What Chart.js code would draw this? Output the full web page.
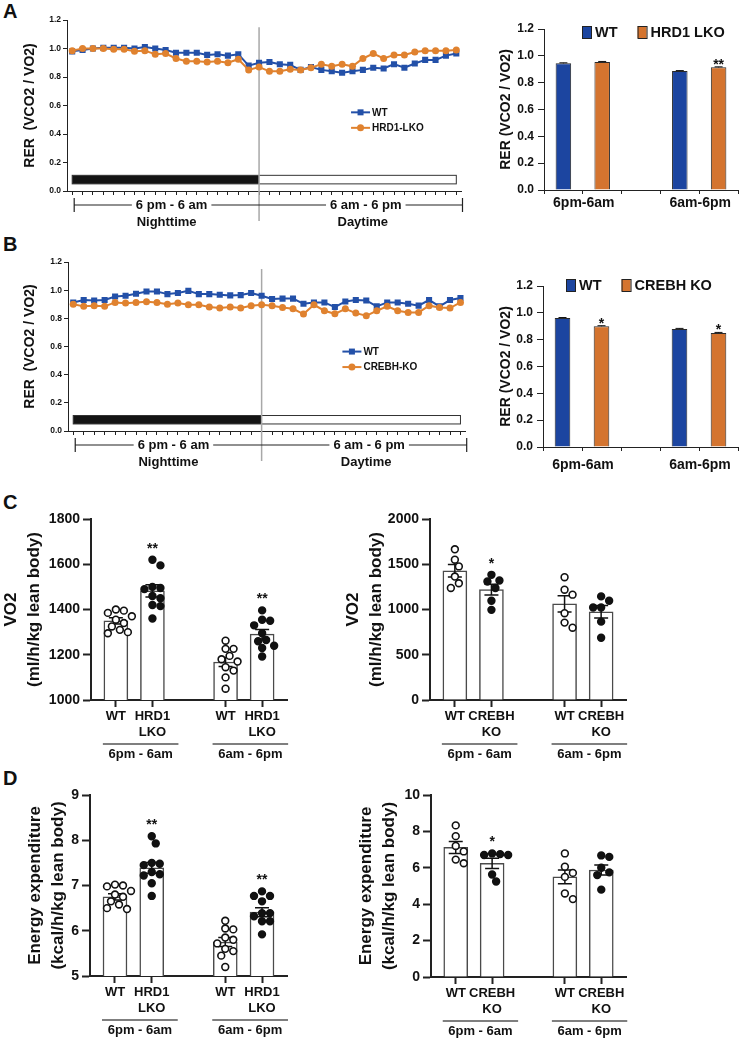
<!DOCTYPE html>
<html>
<head>
<meta charset="utf-8">
<script src="https://cdn.jsdelivr.net/npm/chart.js@4.4.1/dist/chart.umd.min.js"></script>
<style>
  body { margin: 0; background: #fff; width: 740px; height: 1038px; position: relative; overflow: hidden; }
  .box { position: absolute; }
  .lbl { position: absolute; font: bold 20px "Liberation Sans", Arial, sans-serif; color: #111; }
</style>
</head>
<body>
<div class="lbl" style="left:3px;top:0px">A</div>
<div class="lbl" style="left:3px;top:233px">B</div>
<div class="lbl" style="left:3px;top:491px">C</div>
<div class="lbl" style="left:3px;top:767px">D</div>

<div class="box" style="left:0px;top:10px;width:470px;height:232px"><canvas id="aLine"></canvas></div>
<div class="box" style="left:480px;top:10px;width:260px;height:210px"><canvas id="aBar"></canvas></div>
<div class="box" style="left:0px;top:250px;width:470px;height:232px"><canvas id="bLine"></canvas></div>
<div class="box" style="left:480px;top:250px;width:260px;height:230px"><canvas id="bBar"></canvas></div>
<div class="box" style="left:0px;top:505px;width:300px;height:260px"><canvas id="cLeft"></canvas></div>
<div class="box" style="left:342px;top:505px;width:298px;height:260px"><canvas id="cRight"></canvas></div>
<div class="box" style="left:24px;top:780px;width:276px;height:258px"><canvas id="dLeft"></canvas></div>
<div class="box" style="left:355px;top:780px;width:285px;height:258px"><canvas id="dRight"></canvas></div>

<script>
// ---- data ----
var rerWtA = [0.98, 0.99, 1.00, 1.005, 1.005, 1.005, 1.00, 1.01, 1.00, 0.99, 0.97, 0.97, 0.97, 0.955, 0.96, 0.95, 0.96, 0.88, 0.90,
              0.905, 0.89, 0.885, 0.85, 0.87, 0.85, 0.84, 0.83, 0.84, 0.85, 0.865, 0.86, 0.89, 0.865, 0.895, 0.92, 0.92, 0.95, 0.965];
var rerKoA = [0.985, 1.00, 1.00, 1.00, 0.995, 0.995, 0.98, 0.985, 0.96, 0.965, 0.93, 0.91, 0.91, 0.905, 0.91, 0.90, 0.925, 0.85, 0.87,
              0.84, 0.84, 0.855, 0.85, 0.865, 0.89, 0.875, 0.89, 0.875, 0.93, 0.965, 0.93, 0.955, 0.955, 0.975, 0.985, 0.985, 0.985, 0.99];
var rerWtB = [0.913, 0.93, 0.927, 0.93, 0.955, 0.96, 0.975, 0.99, 0.99, 0.972, 0.98, 0.995, 0.972, 0.972, 0.968, 0.963, 0.965, 0.98, 0.96,
              0.937, 0.94, 0.94, 0.903, 0.913, 0.913, 0.88, 0.92, 0.93, 0.927, 0.885, 0.913, 0.913, 0.903, 0.89, 0.93, 0.885, 0.93, 0.944];
var rerKoB = [0.90, 0.885, 0.89, 0.885, 0.913, 0.908, 0.913, 0.918, 0.913, 0.90, 0.908, 0.896, 0.896, 0.88, 0.873, 0.88, 0.873, 0.89, 0.896,
              0.89, 0.877, 0.868, 0.83, 0.896, 0.854, 0.832, 0.868, 0.837, 0.818, 0.854, 0.885, 0.854, 0.842, 0.842, 0.89, 0.877, 0.873, 0.913];
var lightsOnIndex = 18;

var periods = ['6pm-6am', '6am-6pm'];
var periodsSpaced = ['6pm - 6am', '6am - 6pm'];

var rerBarWtA = [0.944, 0.887], rerBarKoA = [0.954, 0.914];
var rerSemWtA = [0.004, 0.003], rerSemKoA = [0.004, 0.004];
var starsA = ['', '**'];
var rerBarWtB = [0.962, 0.880], rerBarKoB = [0.900, 0.850];
var rerSemWtB = [0.003, 0.004], rerSemKoB = [0.004, 0.004];
var starsB = ['*', '*'];

var genoHrd = ['WT', ['HRD1', 'LKO']];
var genoCreb = ['WT', ['CREBH', 'KO']];

// groups: WT night, KO night, WT day, KO day
var vo2HrdDots = [
  [1400, 1395, 1385, 1370, 1355, 1340, 1325, 1310, 1300, 1295],
  [1620, 1595, 1500, 1495, 1490, 1460, 1450, 1420, 1415, 1360],
  [1262, 1226, 1226, 1195, 1180, 1170, 1145, 1130, 1100, 1050],
  [1396, 1355, 1350, 1330, 1295, 1265, 1260, 1240, 1230, 1192]
];
var vo2HrdMean = [1350, 1482, 1168, 1291];
var vo2HrdSem = [14, 27, 20, 21];
var vo2HrdStars = ['', '**', '', '**'];

var vo2CrebDots = [
  [1665, 1550, 1476, 1364, 1290, 1238],
  [1383, 1320, 1309, 1238, 1097, 996],
  [1357, 1219, 1164, 959, 855, 799],
  [1145, 1097, 1022, 1022, 866, 688]
];
var vo2CrebMean = [1428, 1220, 1062, 975];
var vo2CrebSem = [68, 60, 90, 70];
var vo2CrebStars = ['', '*', '', ''];

var eeHrdDots = [
  [7.02, 7.0, 6.98, 6.88, 6.8, 6.75, 6.65, 6.58, 6.5, 6.48],
  [8.09, 7.93, 7.5, 7.48, 7.45, 7.3, 7.25, 7.22, 7.05, 6.77],
  [6.22, 6.05, 6.03, 5.85, 5.8, 5.72, 5.6, 5.55, 5.45, 5.2],
  [6.87, 6.77, 6.77, 6.65, 6.39, 6.39, 6.32, 6.21, 6.21, 5.92]
];
var eeHrdMean = [6.75, 7.39, 5.75, 6.41];
var eeHrdSem = [0.07, 0.12, 0.10, 0.10];
var eeHrdStars = ['', '**', '', '**'];

var eeCrebDots = [
  [8.33, 7.74, 7.2, 6.9, 6.45, 6.25],
  [6.79, 6.75, 6.7, 6.7, 5.63, 5.25],
  [6.79, 6.06, 5.72, 5.5, 4.59, 4.28],
  [6.6, 6.68, 6.0, 5.75, 5.6, 4.8]
];
var eeCrebMean = [7.12, 6.24, 5.50, 5.88];
var eeCrebSem = [0.33, 0.28, 0.38, 0.28];
var eeCrebStars = ['', '*', '', ''];

// ---- styling ----
var FAM = '"Liberation Sans", Arial, Helvetica, sans-serif';
Chart.defaults.font.family = FAM;
Chart.defaults.color = '#111';
Chart.defaults.animation = false;
Chart.defaults.responsive = true;
Chart.defaults.maintainAspectRatio = false;
Chart.defaults.plugins.legend.display = false;
Chart.defaults.plugins.tooltip.enabled = false;

var BLUE_LINE = '#2350a8', ORANGE_LINE = '#e0822f';
var BLUE_BAR = '#1c45a0', ORANGE_BAR = '#d4742f';

function fixW(w) { return function (s) { s.width = w; }; }
function fixH(h) { return function (s) { s.height = h; }; }

function textWithGap(ctx, txt, x, y) {
  var w = ctx.measureText(txt).width;
  ctx.fillStyle = '#fff';
  ctx.fillRect(x - w / 2 - 4, y - 8, w + 8, 16);
  ctx.fillStyle = '#111';
  ctx.fillText(txt, x, y);
}

// ---- RER time course ----
function lineChart(id, wt, ko, koName, opt) {
  var n = wt.length;
  var labels = wt.map(function (v, i) { return String(i + 1); });
  var dayNight = {
    id: 'dayNight',
    beforeDatasetsDraw: function (c) {
      var x = c.scales.x, y = c.scales.y, ctx = c.ctx, a = c.chartArea;
      var x0 = x.getPixelForValue(0), xm = x.getPixelForValue(lightsOnIndex), x1 = x.getPixelForValue(n - 1);
      var yt = y.getPixelForValue(0.11), yb = y.getPixelForValue(0.05);
      ctx.save();
      ctx.fillStyle = '#141414';
      ctx.fillRect(x0, yt, xm - x0, yb - yt);
      ctx.strokeStyle = '#333';
      ctx.lineWidth = 1;
      ctx.strokeRect(x0, yt, x1 - x0, yb - yt);
      ctx.strokeStyle = '#a8a8a8';
      ctx.lineWidth = 1.5;
      ctx.beginPath();
      ctx.moveTo(xm, y.getPixelForValue(1.15));
      ctx.lineTo(xm, a.bottom + 30);
      ctx.stroke();
      ctx.restore();
    },
    afterDraw: function (c) {
      var x = c.scales.x, ctx = c.ctx, a = c.chartArea;
      var xm = x.getPixelForValue(lightsOnIndex);
      var capL = x.getPixelForValue(0) + 2, capR = a.right + 1;
      var by = a.bottom + 14;
      ctx.save();
      ctx.strokeStyle = '#222';
      ctx.lineWidth = 1.2;
      ctx.beginPath();
      ctx.moveTo(capL, by); ctx.lineTo(capR, by);
      ctx.moveTo(capL, by - 7); ctx.lineTo(capL, by + 7);
      ctx.moveTo(capR, by - 7); ctx.lineTo(capR, by + 7);
      ctx.stroke();
      ctx.font = 'bold 13px ' + FAM;
      ctx.textAlign = 'center';
      ctx.textBaseline = 'middle';
      textWithGap(ctx, '6 pm - 6 am', (capL + xm) / 2 + 5, by);
      textWithGap(ctx, '6 am - 6 pm', (xm + capR) / 2 + 5, by);
      ctx.fillText('Nighttime', (capL + xm) / 2, by + 17);
      ctx.fillText('Daytime', (xm + capR) / 2 + 2, by + 17);

      // legend inside the plot
      var lx = a.left + a.width * opt.legX, ly = a.top + a.height * opt.legY;
      ctx.font = 'bold 10px ' + FAM;
      ctx.textAlign = 'left';
      c.data.datasets.forEach(function (ds, i) {
        var yy = ly + i * 15.5;
        ctx.strokeStyle = ds.borderColor;
        ctx.lineWidth = 2;
        ctx.beginPath(); ctx.moveTo(lx, yy); ctx.lineTo(lx + 19, yy); ctx.stroke();
        ctx.fillStyle = ds.borderColor;
        if (ds.pointStyle === 'rect') ctx.fillRect(lx + 6.5, yy - 3, 6, 6);
        else { ctx.beginPath(); ctx.arc(lx + 9.5, yy, 3.5, 0, Math.PI * 2); ctx.fill(); }
        ctx.fillStyle = '#111';
        ctx.fillText(ds.label, lx + 21, yy + 0.5);
      });
      ctx.restore();
    }
  };
  return new Chart(document.getElementById(id), {
    type: 'line',
    data: {
      labels: labels,
      datasets: [
        { label: 'WT', data: wt, borderColor: BLUE_LINE, backgroundColor: BLUE_LINE, borderWidth: 2,
          pointStyle: 'rect', pointRadius: 4.3, pointBorderWidth: 0, tension: 0, order: 2 },
        { label: koName, data: ko, borderColor: ORANGE_LINE, backgroundColor: ORANGE_LINE, borderWidth: 2,
          pointStyle: 'circle', pointRadius: 3.5, pointBorderWidth: 0, tension: 0, order: 1 }
      ]
    },
    options: {
      layout: { padding: opt.pad },
      scales: {
        x: {
          offset: true,
          ticks: { display: false },
          grid: { drawOnChartArea: false, tickLength: 4, color: '#222', offset: false },
          border: { color: '#222', width: 1 },
          afterFit: fixH(4)
        },
        y: {
          min: 0, max: 1.2,
          ticks: { stepSize: 0.2, padding: 2, font: { size: 8.5, weight: 'bold' },
                   callback: function (v) { return v.toFixed(1); } },
          grid: { drawOnChartArea: false, tickLength: 4, color: '#222' },
          border: { color: '#222', width: 1 },
          title: { display: true, text: 'RER  (VCO2 / VO2)', font: { size: 14, weight: 'bold' }, padding: { top: 22, bottom: 0 } },
          afterFit: fixW(opt.yW)
        }
      }
    },
    plugins: [dayNight]
  });
}

// ---- RER period means ----
function rerBarChart(id, wt, ko, wtSem, koSem, stars, koName, opt) {
  var slotLabels = [periods[0] + ' WT', periods[0] + ' KO', '', periods[1] + ' WT', periods[1] + ' KO'];
  var wtData = [wt[0], null, null, wt[1], null];
  var koData = [null, ko[0], null, null, ko[1]];
  var wtErr = [wtSem[0], null, null, wtSem[1], null];
  var koErr = [null, koSem[0], null, null, koSem[1]];
  var koStars = [null, stars[0], null, null, stars[1]];
  var extras = {
    id: 'rerBarExtras',
    afterDatasetsDraw: function (c) {
      var ctx = c.ctx, y = c.scales.y, x = c.scales.x, a = c.chartArea;
      ctx.save();
      [wtErr, koErr].forEach(function (errs, d) {
        var meta = c.getDatasetMeta(d);
        var vals = c.data.datasets[d].data;
        errs.forEach(function (e, i) {
          if (e === null) return;
          var bx = meta.data[i].x, yv = y.getPixelForValue(vals[i]), ye = y.getPixelForValue(vals[i] + e);
          ctx.strokeStyle = '#111'; ctx.lineWidth = 1;
          ctx.beginPath(); ctx.moveTo(bx, yv); ctx.lineTo(bx, ye);
          ctx.moveTo(bx - 4, ye); ctx.lineTo(bx + 4, ye); ctx.stroke();
        });
      });
      ctx.fillStyle = '#111';
      ctx.font = 'bold 14px ' + FAM;
      ctx.textAlign = 'center';
      ctx.textBaseline = 'alphabetic';
      var kmeta = c.getDatasetMeta(1);
      koStars.forEach(function (s, i) {
        if (!s) return;
        ctx.fillText(s, kmeta.data[i].x, y.getPixelForValue(koData[i] + koErr[i]) + 2);
      });
      // period labels under the axis, centred on the boundary between the two bars
      ctx.font = 'bold 14px ' + FAM;
      ctx.textBaseline = 'middle';
      [[0, 1], [3, 4]].forEach(function (p, k) {
        var cx = (x.getPixelForValue(p[0]) + x.getPixelForValue(p[1])) / 2;
        ctx.fillText(periods[k], cx + 1, a.bottom + opt.labDy);
      });
      // legend
      var lx = a.left + opt.legDx, ly = a.top + opt.legDy;
      ctx.font = 'bold 14.5px ' + FAM;
      ctx.textAlign = 'left';
      c.data.datasets.forEach(function (ds) {
        ctx.fillStyle = ds.backgroundColor;
        ctx.fillRect(lx, ly - 6, 9, 12);
        ctx.strokeStyle = '#222'; ctx.lineWidth = 1;
        ctx.strokeRect(lx + 0.5, ly - 5.5, 9, 12);
        ctx.fillStyle = '#111';
        ctx.fillText(ds.label, lx + 13, ly + 1);
        lx += 13 + ctx.measureText(ds.label).width + 20;
      });
      ctx.restore();
    }
  };
  return new Chart(document.getElementById(id), {
    type: 'bar',
    data: {
      labels: slotLabels,
      datasets: [
        { label: 'WT', data: wtData, backgroundColor: BLUE_BAR, borderColor: '#2a2a2a', borderWidth: 1, skipNull: true },
        { label: koName, data: koData, backgroundColor: ORANGE_BAR, borderColor: '#2a2a2a', borderWidth: 1, skipNull: true }
      ]
    },
    options: {
      layout: { padding: opt.pad },
      datasets: { bar: { barPercentage: 0.4, categoryPercentage: 1 } },
      scales: {
        x: {
          ticks: { display: false },
          grid: { drawOnChartArea: false, tickLength: 4, color: '#222' },
          border: { color: '#222', width: 1 },
          afterFit: fixH(5)
        },
        y: {
          min: 0, max: 1.2,
          ticks: { stepSize: 0.2, padding: 4, font: { size: 12, weight: 'bold' },
                   callback: function (v) { return v.toFixed(1); } },
          grid: { drawOnChartArea: false, tickLength: 6, color: '#222' },
          border: { color: '#222', width: 1 },
          title: { display: true, text: 'RER (VCO2 / VO2)', font: { size: 14, weight: 'bold' }, padding: { top: 18, bottom: 0 } },
          afterFit: fixW(opt.yW)
        }
      }
    },
    plugins: [extras]
  });
}

// ---- scatter-on-bar panels ----
var GROUP_X = [1, 2, 4, 5];

function swarm(chart, r) {
  var xS = chart.scales.x, yS = chart.scales.y;
  chart.data.datasets.forEach(function (ds) {
    if (ds.type !== 'scatter') return;
    var cx = xS.getPixelForValue(ds.center);
    var placed = [];
    var pts = ds.data.slice().sort(function (a, b) { return b.y - a.y; });
    var steps = [0, 1, -1, 2, -2, 3, -3, 4, -4, 5, -5];
    pts.forEach(function (p) {
      var py = yS.getPixelForValue(p.y), px = cx;
      for (var j = 0; j < steps.length; j++) {
        var cand = cx + steps[j] * (r + 0.6);
        var ok = placed.every(function (q) {
          var dx = q[0] - cand, dy = q[1] - py;
          return dx * dx + dy * dy >= (2 * r + 0.8) * (2 * r + 0.8);
        });
        if (ok) { px = cand; break; }
      }
      placed.push([px, py]);
      p.x = xS.getValueForPixel(px);
    });
  });
  chart.update('none');
}

function dotChart(id, cfg) {
  var datasets = [{
    type: 'bar',
    data: GROUP_X.map(function (x, i) { return { x: x, y: cfg.mean[i] }; }),
    backgroundColor: '#fff', borderColor: '#4a4a4a', borderWidth: 1.5, barThickness: 24, order: 2
  }];
  cfg.dots.forEach(function (vals, i) {
    datasets.push({
      type: 'scatter', center: GROUP_X[i], order: 1,
      data: vals.map(function (v) { return { x: GROUP_X[i], y: v }; }),
      pointRadius: cfg.r, pointBorderWidth: 1.6, pointBorderColor: '#111',
      pointBackgroundColor: i % 2 ? '#111' : '#fff'
    });
  });
  var extras = {
    id: 'dotExtras',
    afterDatasetDraw: function (c, args) {
      if (args.index !== 0) return;
      var ctx = c.ctx, x = c.scales.x, y = c.scales.y;
      ctx.save();
      ctx.strokeStyle = '#111'; ctx.lineWidth = 1.5;
      GROUP_X.forEach(function (gx, i) {
        var px = x.getPixelForValue(gx);
        var lo = y.getPixelForValue(cfg.mean[i] - cfg.sem[i]), hi = y.getPixelForValue(cfg.mean[i] + cfg.sem[i]);
        ctx.beginPath();
        ctx.moveTo(px, lo); ctx.lineTo(px, hi);
        ctx.moveTo(px - 7, lo); ctx.lineTo(px + 7, lo);
        ctx.moveTo(px - 7, hi); ctx.lineTo(px + 7, hi);
        ctx.stroke();
      });
      ctx.restore();
    },
    afterDraw: function (c) {
      var ctx = c.ctx, x = c.scales.x, y = c.scales.y, a = c.chartArea;
      ctx.save();
      ctx.fillStyle = '#111';
      ctx.textAlign = 'center';
      ctx.font = 'bold 14px ' + FAM;
      ctx.textBaseline = 'alphabetic';
      cfg.stars.forEach(function (s, i) {
        if (!s) return;
        var top = y.getPixelForValue(Math.max.apply(null, cfg.dots[i]));
        ctx.fillText(s, x.getPixelForValue(GROUP_X[i]), top - 15 + 8);
      });
      // period brackets
      ctx.font = 'bold 13px ' + FAM;
      ctx.textBaseline = 'middle';
      ctx.strokeStyle = '#555'; ctx.lineWidth = 1.5;
      [[0, 1], [2, 3]].forEach(function (g, k) {
        var l = x.getPixelForValue(GROUP_X[g[0]]) - 13, r = x.getPixelForValue(GROUP_X[g[1]]) + 26;
        ctx.beginPath(); ctx.moveTo(l, a.bottom + 44); ctx.lineTo(r, a.bottom + 44); ctx.stroke();
        ctx.fillText(periodsSpaced[k], (l + r) / 2, a.bottom + 54);
      });
      ctx.restore();
    }
  };
  var chart = new Chart(document.getElementById(id), {
    type: 'bar',
    data: { datasets: datasets },
    options: {
      layout: { padding: cfg.pad },
      scales: {
        x: {
          type: 'linear', min: 0.32, max: 5.68, offset: false,
          afterBuildTicks: function (s) { s.ticks = GROUP_X.map(function (v) { return { value: v }; }); },
          ticks: { autoSkip: false, maxRotation: 0, padding: 2, font: { size: 13, weight: 'bold' },
                   callback: function (v, i) { return cfg.geno[i % 2]; } },
          grid: { drawOnChartArea: false, offset: false, tickLength: 7, tickWidth: 2, tickColor: '#222' },
          border: { color: '#222', width: 2 },
          afterFit: fixH(40)
        },
        y: {
          min: cfg.min, max: cfg.max,
          ticks: { stepSize: cfg.step, padding: 3, font: { size: 14, weight: 'bold' },
                   callback: function (v) { return String(v); } },
          grid: { drawOnChartArea: false, tickLength: 8, tickWidth: 2, tickColor: '#222' },
          border: { color: '#222', width: 2 },
          title: { display: true, text: cfg.title, font: { size: 17, weight: 'bold', lineHeight: 1.35 }, padding: { top: 0, bottom: 0 } },
          afterFit: fixW(cfg.yW)
        }
      }
    },
    plugins: [extras]
  });
  swarm(chart, cfg.r);
  return chart;
}

lineChart('aLine', rerWtA, rerKoA, 'HRD1-LKO', { yW: 67, pad: { top: 10, right: 8.5, bottom: 47, left: 0 }, legX: 0.72, legY: 0.54 });
lineChart('bLine', rerWtB, rerKoB, 'CREBH-KO', { yW: 68, pad: { top: 12, right: 4, bottom: 47, left: 0 }, legX: 0.69, legY: 0.53 });
rerBarChart('aBar', rerBarWtA, rerBarKoA, rerSemWtA, rerSemKoA, starsA, 'HRD1 LKO',
  { yW: 64, pad: { top: 19, right: 2, bottom: 25, left: 0 }, legDx: 38, legDy: 3, labDy: 13 });
rerBarChart('bBar', rerBarWtB, rerBarKoB, rerSemWtB, rerSemKoB, starsB, 'CREBH KO',
  { yW: 63, pad: { top: 36, right: 2, bottom: 28, left: 0 }, legDx: 23, legDy: -1, labDy: 18 });

var vo2Title = ['VO2', '(ml/h/kg lean body)'];
var eeTitle = ['Energy expenditure', '(kcal/h/kg lean body)'];
dotChart('cLeft', { dots: vo2HrdDots, mean: vo2HrdMean, sem: vo2HrdSem, stars: vo2HrdStars, geno: genoHrd,
  min: 1000, max: 1800, step: 200, title: vo2Title, yW: 91, r: 3.4, pad: { top: 14, right: 13, bottom: 25, left: 0 } });
dotChart('cRight', { dots: vo2CrebDots, mean: vo2CrebMean, sem: vo2CrebSem, stars: vo2CrebStars, geno: genoCreb,
  min: 0, max: 2000, step: 500, title: vo2Title, yW: 88, r: 3.4, pad: { top: 14, right: 14, bottom: 25, left: 0 } });
dotChart('dLeft', { dots: eeHrdDots, mean: eeHrdMean, sem: eeHrdSem, stars: eeHrdStars, geno: genoHrd,
  min: 5, max: 9, step: 1, title: eeTitle, yW: 66, r: 3.4, pad: { top: 15, right: 13, bottom: 22, left: 0 } });
dotChart('dRight', { dots: eeCrebDots, mean: eeCrebMean, sem: eeCrebSem, stars: eeCrebStars, geno: genoCreb,
  min: 0, max: 10, step: 2, title: eeTitle, yW: 76, r: 3.4, pad: { top: 15, right: 14, bottom: 21, left: 0 } });
</script>
</body>
</html>
